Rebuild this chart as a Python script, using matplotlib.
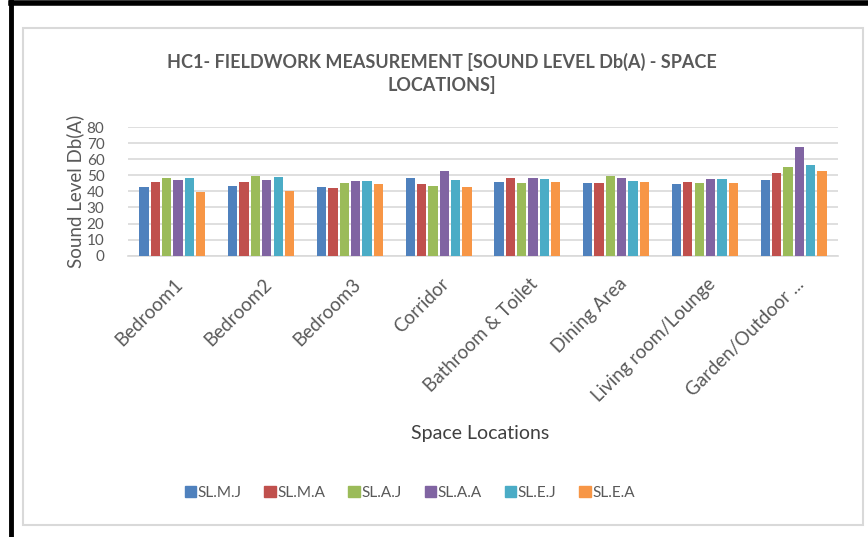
import matplotlib.pyplot as plt
import matplotlib.patches as mpatches
import matplotlib.transforms as mtransforms
import numpy as np

plt.rcParams['font.family'] = ['Lato', 'DejaVu Sans']

# Sound levels per space location, Db(A)
locations = ["Bedroom1", "Bedroom2", "Bedroom3", "Corridor", "Bathroom & Toilet",
             "Dining Area", "Living room/Lounge", "Garden/Outdoor ..."]
series_names = ["SL.M.J", "SL.M.A", "SL.A.J", "SL.A.A", "SL.E.J", "SL.E.A"]
sl_m_j = [43, 43.5, 42.5, 48, 46, 45.5, 44.5, 47]
sl_m_a = [46, 46, 42, 44.5, 48.5, 45.5, 46, 51.5]
sl_a_j = [48.5, 49.5, 45.5, 43.5, 45, 49.5, 45, 55]
sl_a_a = [47, 47, 46.5, 52.5, 48.5, 48.5, 47.5, 67.5]
sl_e_j = [48.5, 49, 46.5, 47, 47.5, 46.5, 47.5, 56.5]
sl_e_a = [39.5, 40, 44.5, 42.5, 46, 46, 45, 52.5]
values = [sl_m_j, sl_m_a, sl_a_j, sl_a_a, sl_e_j, sl_e_a]
colors = ["#4F81BD", "#C0504D", "#9BBB59", "#8064A2", "#4BACC6", "#F79646"]

fig = plt.figure(figsize=(8.68, 5.37), dpi=100)
ax = fig.add_axes([0.1475, 0.5238, 0.8179, 0.2397])

x = np.arange(len(locations))
step = 0.128
for i, (name, vals, c) in enumerate(zip(series_names, values, colors)):
    ax.bar(x + (i - 2.5) * step, vals, width=0.105, color=c, label=name, zorder=3)

ax.set_xlim(-0.5, len(locations) - 0.5)
ax.set_ylim(0, 80)
ax.set_yticks(np.arange(0, 81, 10))
ax.grid(axis='y', color='#d9d9d9', linewidth=1.2, zorder=0)
for s in ['top', 'right', 'left']:
    ax.spines[s].set_visible(False)
ax.spines['bottom'].set_color('#d9d9d9')
ax.spines['bottom'].set_linewidth(1.2)
ax.tick_params(axis='y', length=0, pad=17, labelsize=11, labelcolor='#595959')
ax.tick_params(axis='x', length=0, pad=14)
ax.set_xticks(x)
ax.set_xticklabels(locations, rotation=45, ha='right', rotation_mode='anchor',
                   fontsize=13.5, color='#595959')
shift = mtransforms.ScaledTranslation(2 / 100, 0, fig.dpi_scale_trans)
for lbl in ax.get_xticklabels():
    lbl.set_transform(lbl.get_transform() + shift)

ax.set_ylabel("Sound Level Db(A)", fontsize=13.5, color='#595959', labelpad=2)
fig.text(0.553, 0.193, "Space Locations", fontsize=14, color='#404040',
         ha='center', va='center')
fig.text(0.509, 0.885, "HC1- FIELDWORK MEASUREMENT [SOUND LEVEL Db(A) - SPACE",
         fontsize=13, fontweight='bold', color='#595959', ha='center', va='center')
fig.text(0.509, 0.842, "LOCATIONS]", fontsize=13, fontweight='bold',
         color='#595959', ha='center', va='center')

handles = [mpatches.Patch(color=c, label=n) for n, c in zip(series_names, colors)]
fig.legend(handles=handles, loc='center', bbox_to_anchor=(0.472, 0.082), ncol=6,
           frameon=False, fontsize=11, handlelength=0.75, handleheight=0.75,
           handletextpad=0.1, columnspacing=1.5, labelcolor='#595959')

# chart area frame and outer dark border
fig.add_artist(mpatches.Rectangle((23 / 868, 1 - 525 / 537), 840 / 868, 497 / 537,
                                  transform=fig.transFigure, fill=False,
                                  edgecolor='#d9d9d9', linewidth=1.5))
fig.add_artist(plt.Line2D([11 / 868, 11 / 868], [0, 1], transform=fig.transFigure,
                          color='black', linewidth=3.5))
fig.add_artist(plt.Line2D([11 / 868, 1], [1 - 2.5 / 537, 1 - 2.5 / 537],
                          transform=fig.transFigure, color='black', linewidth=4))

fig.savefig("out.png", dpi=100)
